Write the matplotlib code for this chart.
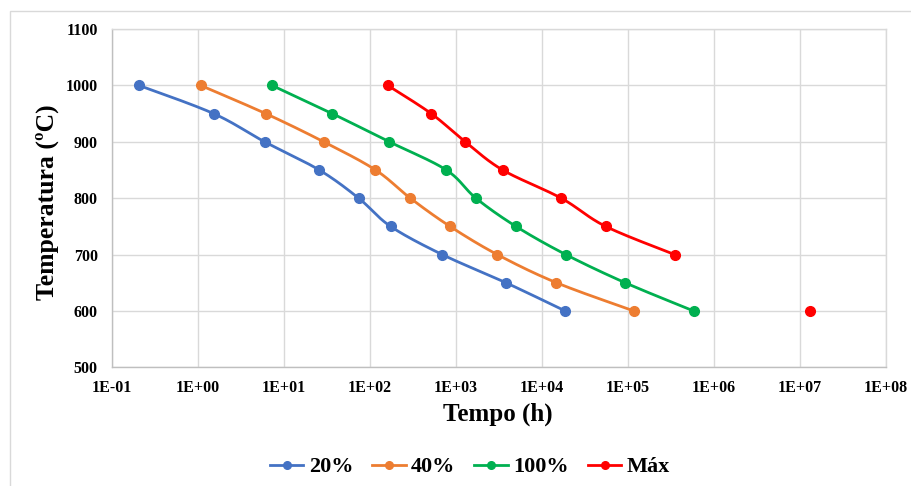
import numpy as np
import matplotlib
matplotlib.use("Agg")
import matplotlib.pyplot as plt
from matplotlib.ticker import FixedLocator, FuncFormatter, NullLocator
from matplotlib.lines import Line2D
from matplotlib.patches import Rectangle

# ---- data ----
temperatures = [1000, 950, 900, 850, 800, 750, 700, 650, 600]
t_20 = [0.207, 1.53, 6.0, 25.9, 74.5, 175, 698, 3846, 18800]
t_40 = [1.08, 6.18, 29.2, 117, 297, 859, 3050, 14900, 118000]
t_100 = [7.3, 36.7, 169, 778, 1722, 5020, 19100, 93800, 585000]
t_max = [162, 520, 1293, 3520, 16900, 55500, 352000, np.nan, 1.32e7]
series_labels = ["20%", "40%", "100%", "Máx"]
series_colors = ["#4472C4", "#ED7D31", "#00B050", "#FF0000"]
x_ticks = [1e-1, 1e0, 1e1, 1e2, 1e3, 1e4, 1e5, 1e6, 1e7, 1e8]
y_ticks = [500, 600, 700, 800, 900, 1000, 1100]
x_title = "Tempo (h)"
y_title = "Temperatura (ºC)"

FONT = ["Liberation Serif", "DejaVu Serif"]
plt.rcParams['font.family'] = FONT

W, H = 912, 486
fig = plt.figure(figsize=(W / 100, H / 100), dpi=100)
# chart-area border (Excel style)
fig.patches.append(Rectangle((10 / W, -0.1), 1.2, 1 - 11 / H + 0.1, transform=fig.transFigure,
                             fill=False, edgecolor="#d9d9d9", linewidth=1.0))

ax = fig.add_axes([111.7 / W, 1 - 367.3 / H, (885.5 - 111.7) / W, (367.3 - 29) / H])
ax.set_xscale("log")
ax.set_xlim(1e-1, 1e8)
ax.set_ylim(500, 1100)
ax.xaxis.set_major_locator(FixedLocator(x_ticks))
ax.xaxis.set_minor_locator(NullLocator())
ax.yaxis.set_major_locator(FixedLocator(y_ticks))

def fmt_e(v, pos):
    e = int(round(np.log10(v)))
    return "1E%s%02d" % ("+" if e >= 0 else "-", abs(e))
ax.xaxis.set_major_formatter(FuncFormatter(fmt_e))

ax.grid(True, color="#d9d9d9", linewidth=1.0)
ax.set_axisbelow(True)
for s in ["top", "right"]:
    ax.spines[s].set_color("#d9d9d9")
for s in ["left", "bottom"]:
    ax.spines[s].set_color("#bfbfbf")
for s in ax.spines.values():
    s.set_linewidth(1.0)
ax.tick_params(axis="y", length=0, labelsize=11.5, pad=10)
ax.tick_params(axis="x", length=0, labelsize=11.5, pad=9)
for lab in ax.get_xticklabels() + ax.get_yticklabels():
    lab.set_fontweight("bold")
    lab.set_fontfamily(FONT)

fig.text(498 / W, 1 - 414 / H, x_title, ha="center", va="center",
         fontsize=18, fontweight="bold")
fig.text(47 / W, 1 - 201.7 / H, y_title, ha="center", va="center", rotation=90,
         fontsize=18.5, fontweight="bold")

def smooth_run(xs, ys):
    # Bezier smoothing in display space (Excel-like)
    pts = ax.transData.transform(np.column_stack([xs, ys]))
    n = len(pts)
    if n < 2:
        return xs, ys
    out = [pts[0]]
    for i in range(n - 1):
        p0 = pts[i - 1] if i > 0 else pts[i]
        p1 = pts[i]
        p2 = pts[i + 1]
        p3 = pts[i + 2] if i + 2 < n else pts[i + 1]
        c1 = p1 + (p2 - p0) / 6.0
        c2 = p2 - (p3 - p1) / 6.0
        t = np.linspace(0, 1, 30)[1:, None]
        b = ((1 - t) ** 3) * p1 + 3 * ((1 - t) ** 2) * t * c1 + 3 * (1 - t) * t ** 2 * c2 + t ** 3 * p2
        out.extend(b)
    out = np.array(out)
    d = ax.transData.inverted().transform(out)
    return d[:, 0], d[:, 1]

all_series = [t_20, t_40, t_100, t_max]
for vals, color, label in zip(all_series, series_colors, series_labels):
    xs = np.array(vals, dtype=float)
    ys = np.array(temperatures, dtype=float)
    ok = ~np.isnan(xs)
    runs = []
    cur = []
    for i in range(len(xs)):
        if ok[i]:
            cur.append(i)
        else:
            if cur:
                runs.append(cur)
            cur = []
    if cur:
        runs.append(cur)
    for r in runs:
        if len(r) > 1:
            sx, sy = smooth_run(xs[r], ys[r])
            ax.plot(sx, sy, color=color, linewidth=2.0, solid_capstyle="round", zorder=3)
    ax.plot(xs[ok], ys[ok], linestyle="none", marker="o", markersize=7,
            color=color, zorder=4)

handles = [Line2D([0], [0], color=c, linewidth=2.0, marker="o", markersize=5.5) for c in series_colors]
leg = fig.legend(handles, series_labels, loc="center", bbox_to_anchor=(470 / W, 1 - 467 / H),
                 ncol=4, frameon=False, handlelength=1.5, handletextpad=0.25, columnspacing=0.85,
                 prop={"family": FONT, "weight": "bold", "size": 16})

fig.savefig("out.png", dpi=100)
